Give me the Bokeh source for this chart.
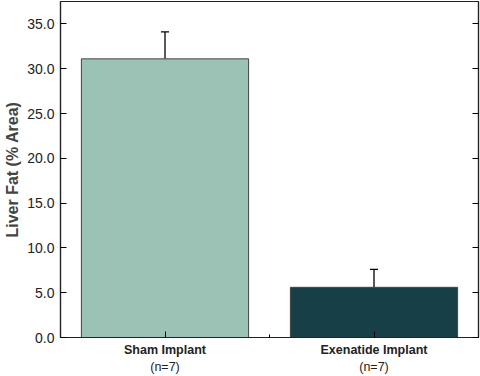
from bokeh.plotting import figure
from bokeh.models import (Range1d, LinearAxis, FixedTicker, NumeralTickFormatter,
                          ColumnDataSource, Whisker, TeeHead)
from bokeh.embed import file_html
from bokeh.resources import INLINE

groups = ["Sham Implant", "Exenatide Implant"]
counts = ["(n=7)", "(n=7)"]
liver_fat = [31.1, 5.6]
sem = [3.0, 2.0]
colors = ["#9CC2B6", "#173F47"]
y_ticks = [0, 5, 10, 15, 20, 25, 30, 35]

xpos = [i + 0.5 for i in range(len(groups))]
src = ColumnDataSource(dict(x=xpos, top=liver_fat, upper=[v + e for v, e in zip(liver_fat, sem)],
                            color=colors))

FONT = "Liberation Sans"
p = figure(width=480, height=376, output_backend="svg", toolbar_location=None,
           x_range=Range1d(0, 2), y_range=Range1d(0, 37.5),
           min_border_left=60, min_border_right=2, min_border_top=1, min_border_bottom=36,
           x_axis_type=None, y_axis_type=None)
p.grid.visible = False
p.outline_line_color = "#222222"
p.outline_line_width = 1.2
p.background_fill_color = "white"

p.vbar(x="x", top="top", width=0.8, bottom=0, source=src, fill_color="color",
       line_color="#444444", line_width=1)

w = Whisker(source=src, base="x", upper="upper", lower="top", line_color="black", line_width=1.3,
            upper_head=TeeHead(size=8, line_color="black", line_width=1.3), lower_head=None)
p.add_layout(w)

# left axis
ly = LinearAxis(ticker=FixedTicker(ticks=y_ticks), formatter=NumeralTickFormatter(format="0.0"),
                axis_label="Liver Fat (% Area)")
ly.axis_label_text_font = FONT
ly.axis_label_text_font_style = "bold"
ly.axis_label_text_font_size = "16px"
ly.axis_label_standoff = 3
ly.major_label_text_font = FONT
ly.major_label_text_font_size = "14px"
ly.major_label_text_color = "#222222"
ly.major_tick_in = 6
ly.major_tick_out = 0
ly.minor_tick_line_color = None
ly.major_label_standoff = 6
ly.axis_line_color = "#222222"
ly.axis_line_width = 1.2
p.add_layout(ly, "left")

# right axis
ry = LinearAxis(ticker=FixedTicker(ticks=y_ticks), major_label_text_font_size="0px")
ry.major_label_overrides = {t: "" for t in y_ticks}
ry.major_tick_in = 6
ry.major_tick_out = 0
ry.minor_tick_line_color = None
ry.axis_line_color = "#222222"
ry.axis_line_width = 1.2
p.add_layout(ry, "right")

# bottom axis (group names)
bx = LinearAxis(ticker=FixedTicker(ticks=xpos, minor_ticks=[1.0]))
bx.major_label_overrides = {x: g for x, g in zip(xpos, groups)}
bx.major_label_text_font = FONT
bx.major_label_text_font_style = "bold"
bx.major_label_text_font_size = "12.5px"
bx.major_label_text_color = "#222222"
bx.major_tick_in = 6
bx.major_tick_out = 0
bx.minor_tick_in = 3
bx.minor_tick_out = 0
bx.major_label_standoff = 5
bx.axis_line_color = "#222222"
bx.axis_line_width = 1.2
p.add_layout(bx, "below")

# second bottom axis (counts)
cx = LinearAxis(ticker=FixedTicker(ticks=xpos))
cx.major_label_overrides = {x: c for x, c in zip(xpos, counts)}
cx.major_label_text_font = FONT
cx.major_label_text_font_size = "12.5px"
cx.major_label_text_color = "#222222"
cx.major_tick_in = 0
cx.major_tick_out = 0
cx.major_tick_line_color = None
cx.minor_tick_line_color = None
cx.axis_line_color = None
cx.major_label_standoff = 0
p.add_layout(cx, "below")

open("out.html", "w").write(file_html(p, INLINE))
